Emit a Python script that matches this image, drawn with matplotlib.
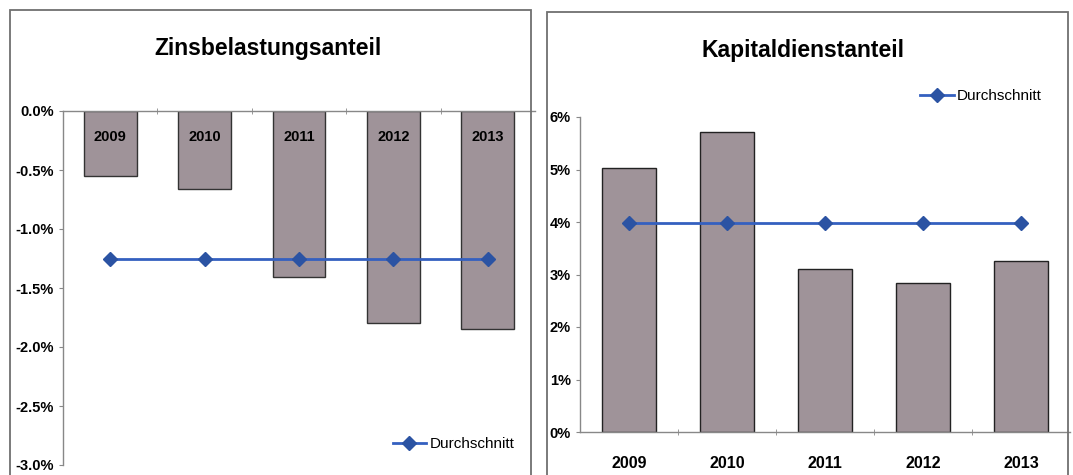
import numpy as np
import matplotlib.pyplot as plt
from matplotlib.patches import Rectangle
from matplotlib.ticker import FuncFormatter, FixedLocator

# data
years = ['2009', '2010', '2011', '2012', '2013']
zins = [-0.55, -0.66, -1.41, -1.80, -1.85]
kapital = [5.03, 5.72, 3.10, 2.84, 3.26]
zins_avg = np.mean(zins)
kapital_avg = np.mean(kapital)

bar_color = '#9f9399'
line_color = '#3460c0'
marker_color = '#2b53a3'
plt.rcParams['font.family'] = ['Liberation Sans', 'DejaVu Sans']

W, H = 1073, 475
fig = plt.figure(figsize=(W / 100, H / 100), dpi=100)

def px(x0, y0, x1, y1):
    # pixel box (top-left origin) -> figure fraction
    return [x0 / W, 1 - y1 / H, (x1 - x0) / W, (y1 - y0) / H]

# panel frames
for x0, y0, x1 in [(10, 10, 531), (547, 12, 1068)]:
    fig.patches.append(Rectangle((x0 / W, -0.05), (x1 - x0) / W, 1 - y0 / H + 0.05,
                                 transform=fig.transFigure, fill=False,
                                 edgecolor='#707070', linewidth=1.3))

def style(ax, xsize):
    for s in ['top', 'right']:
        ax.spines[s].set_visible(False)
    for s in ['left', 'bottom']:
        ax.spines[s].set_color('#888888')
        ax.spines[s].set_linewidth(1.0)
    ax.tick_params(axis='y', length=3, color='#888888', labelsize=10.5)
    ax.xaxis.set_minor_locator(FixedLocator([0.5, 1.5, 2.5, 3.5]))
    ax.tick_params(axis='x', which='minor', length=4, direction='inout', color='#888888')
    ax.tick_params(axis='x', which='major', length=0, labelsize=xsize)
    for t in ax.get_yticklabels() + ax.get_xticklabels():
        t.set_fontweight('bold')

x = np.arange(len(years))

# left: Zinsbelastungsanteil
ax1 = fig.add_axes(px(63, 111, 535, 465))
ax1.bar(x, zins, width=0.56, color=bar_color, edgecolor='#333333', linewidth=1.0, zorder=1)
ax1.plot(x, [zins_avg] * len(x), color=line_color, linewidth=2, marker='D',
         markersize=7, markerfacecolor=marker_color, markeredgecolor=marker_color,
         label='Durchschnitt', zorder=3)
ax1.set_xlim(-0.5, 4.5)
ax1.set_ylim(-3.0, 0.0)
ax1.set_yticks(np.arange(-3.0, 0.01, 0.5))
ax1.yaxis.set_major_formatter(FuncFormatter(lambda v, p: f'{v:.1f}%'.replace('-0.0', '0.0')))
ax1.set_xticks(x)
ax1.set_xticklabels(years)
ax1.spines['bottom'].set_position(('data', 0))
style(ax1, 10.5)
ax1.tick_params(axis='x', which='major', pad=14)
ax1.legend(loc='lower right', frameon=False, fontsize=11, handlelength=2.2,
           handletextpad=0.2, bbox_to_anchor=(0.985, 0.0))
fig.text(268 / W, 1 - 48 / H, 'Zinsbelastungsanteil', ha='center', va='center',
         fontsize=16.5, fontweight='bold')

# right: Kapitaldienstanteil
ax2 = fig.add_axes(px(580, 117, 1070, 432))
ax2.bar(x, kapital, width=0.56, color=bar_color, edgecolor='#222222', linewidth=1.0, zorder=1)
ax2.plot(x, [kapital_avg] * len(x), color=line_color, linewidth=2, marker='D',
         markersize=7, markerfacecolor=marker_color, markeredgecolor=marker_color,
         label='Durchschnitt', zorder=3)
ax2.set_xlim(-0.5, 4.5)
ax2.set_ylim(0, 6)
ax2.set_yticks(range(0, 7))
ax2.yaxis.set_major_formatter(FuncFormatter(lambda v, p: f'{v:.0f}%'))
ax2.set_xticks(x)
ax2.set_xticklabels(years)
style(ax2, 11.5)
ax2.tick_params(axis='x', which='major', pad=17)
ax2.legend(loc='lower right', frameon=False, fontsize=11, handlelength=2.2,
           handletextpad=0.2, bbox_to_anchor=(0.97, 1.0))
fig.text(803 / W, 1 - 50 / H, 'Kapitaldienstanteil', ha='center', va='center',
         fontsize=16.5, fontweight='bold')

fig.savefig('out.png', dpi=100)
